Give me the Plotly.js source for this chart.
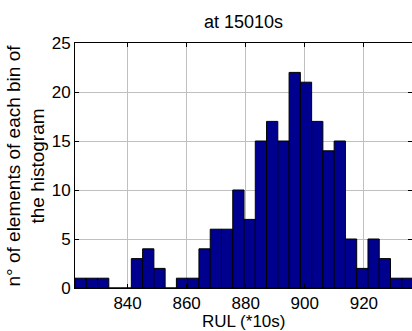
<!DOCTYPE html>
<html>
<head>
<meta charset="utf-8">
<script src="https://cdn.plot.ly/plotly-3.0.1.min.js"></script>
<style>
html,body{margin:0;padding:0;background:#fff;overflow:hidden;}
#chart{width:412px;height:331px;}
</style>
</head>
<body>
<div id="chart"></div>
<script>
// Bin centers (RUL, *10s) and counts
var binCenters = [824.11, 827.92, 831.74, 835.55, 839.37, 843.18, 847.00, 850.81, 854.63, 858.44,
                  862.26, 866.07, 869.89, 873.70, 877.52, 881.33, 885.15, 888.96, 892.78, 896.59,
                  900.41, 904.22, 908.04, 911.85, 915.67, 919.48, 923.30, 927.11, 930.93, 934.74];
var counts = [1, 1, 1, 0, 0, 3, 4, 2, 0, 1,
              1, 4, 6, 6, 10, 7, 15, 17, 15, 22,
              21, 17, 14, 15, 5, 2, 5, 3, 1, 1];
var binWidth = 3.815;
var xTicks = [840, 860, 880, 900, 920];
var yTicks = [0, 5, 10, 15, 20, 25];

var FONT = "Liberation Sans, Arial, Helvetica, sans-serif";

var trace = {
  type: 'bar',
  x: binCenters,
  y: counts,
  width: binWidth,
  marker: {color: '#00008F', line: {color: '#000000', width: 1}},
  hoverinfo: 'x+y'
};

var layout = {
  width: 412,
  height: 331,
  margin: {l: 75, r: 0, t: 43, b: 43, pad: 0},
  paper_bgcolor: '#ffffff',
  plot_bgcolor: '#ffffff',
  showlegend: false,
  bargap: 0,
  font: {family: FONT, size: 17, color: '#000'},
  title: {
    text: 'at 15010s',
    font: {family: FONT, size: 18, color: '#000'},
    x: 0.5, xref: 'paper', xanchor: 'center',
    y: 1 - 22/331, yref: 'container', yanchor: 'middle'
  },
  xaxis: {
    range: [822.2, 936.3],
    tickvals: xTicks,
    ticktext: xTicks.map(String),
    ticks: 'inside', ticklen: 4, tickcolor: '#000', tickwidth: 1,
    showgrid: true, gridcolor: '#c0c0c0', gridwidth: 1,
    showline: true, linecolor: '#000', linewidth: 1, mirror: 'ticks',
    zeroline: false,
    tickfont: {family: FONT, size: 17, color: '#000'}
  },
  yaxis: {
    range: [0, 25],
    tickvals: yTicks,
    ticktext: yTicks.map(String),
    ticks: 'inside', ticklen: 4, tickcolor: '#000', tickwidth: 1,
    showgrid: true, gridcolor: '#c0c0c0', gridwidth: 1,
    showline: true, linecolor: '#000', linewidth: 1, mirror: 'ticks',
    zeroline: false,
    tickfont: {family: FONT, size: 17, color: '#000'}
  },
  annotations: [{
    text: 'n° of elements of each bin of<br>the histogram',
    xref: 'paper', yref: 'paper',
    x: -75/337, y: 0.5,
    xanchor: 'left', yanchor: 'middle',
    textangle: -90,
    showarrow: false,
    font: {family: FONT, size: 19, color: '#000'}
  }, {
    text: 'RUL (*10s)',
    xref: 'paper', yref: 'paper',
    x: 0.5, y: -(321 - 288) / 245,
    xanchor: 'center', yanchor: 'middle',
    showarrow: false,
    font: {family: FONT, size: 17, color: '#000'}
  }]
};

Plotly.newPlot('chart', [trace], layout, {displayModeBar: false, staticPlot: true});
</script>
</body>
</html>
